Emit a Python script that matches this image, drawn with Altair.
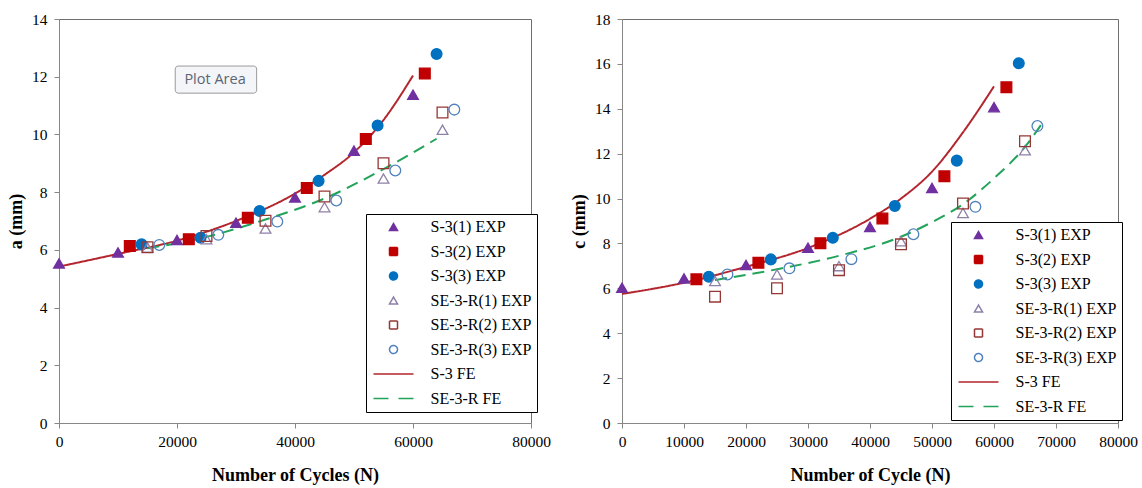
import json
import altair as alt
import pandas as pd

# ---------------- series definitions ----------------
SERIES = ["S-3(1) EXP", "S-3(2) EXP", "S-3(3) EXP",
          "SE-3-R(1) EXP", "SE-3-R(2) EXP", "SE-3-R(3) EXP",
          "S-3 FE", "SE-3-R FE"]
STROKES = ["#7030A0", "#C00000", "#0070C0",
           "#8E80A8", "#953735", "#4F81BD",
           "#B3262E", "#22A35A"]
FILLS = ["#7030A0", "#C00000", "#0070C0",
         "transparent", "transparent", "transparent",
         "transparent", "transparent"]
SHAPES = ["triangle-up", "square", "circle",
          "triangle-up", "square", "circle",
          "M-5,0H5", "M-5,0H5"]
DASHES = [[1, 0], [1, 0], [1, 0], [1, 0], [1, 0], [1, 0], [1, 0], [12, 7]]
LEGEND_DASHES = [[1, 0], [1, 0], [1, 0], [1, 0], [1, 0], [1, 0], [1, 0], [15, 10]]

# ---------------- panel a (depth a) ----------------
A_S31_N = [0, 10000, 20000, 30000, 40000, 50000, 60000]
A_S31_V = [5.53, 5.91, 6.34, 6.94, 7.82, 9.44, 11.38]
A_S32_N = [12000, 22000, 32000, 42000, 52000, 62000]
A_S32_V = [6.13, 6.37, 7.11, 8.14, 9.84, 12.11]
A_S33_N = [14000, 24000, 34000, 44000, 54000, 64000]
A_S33_V = [6.19, 6.42, 7.35, 8.39, 10.31, 12.79]
A_R1_N = [15000, 25000, 35000, 45000, 55000, 65000]
A_R1_V = [6.08, 6.37, 6.74, 7.48, 8.47, 10.16]
A_R2_N = [15000, 25000, 35000, 45000, 55000, 65000]
A_R2_V = [6.09, 6.48, 7.01, 7.85, 9.0, 10.76]
A_R3_N = [17000, 27000, 37000, 47000, 57000, 67000]
A_R3_V = [6.17, 6.52, 6.98, 7.71, 8.75, 10.86]
A_FE_N = [0, 10000, 20000, 30000, 40000, 45000, 50000, 55000, 60000]
A_FE_V = [5.42, 5.86, 6.32, 7.0, 7.95, 8.6, 9.38, 10.5, 12.04]
A_RFE_N = [15000, 25000, 35000, 45000, 55000, 64000]
A_RFE_V = [6.05, 6.45, 7.05, 7.78, 8.8, 9.85]

# ---------------- panel c (length c) ----------------
C_S31_N = [0, 10000, 20000, 30000, 40000, 50000, 60000]
C_S31_V = [6.03, 6.44, 7.04, 7.81, 8.74, 10.47, 14.07]
C_S32_N = [12000, 22000, 32000, 42000, 52000, 62000]
C_S32_V = [6.4, 7.14, 8.01, 9.11, 10.99, 14.96]
C_S33_N = [14000, 24000, 34000, 44000, 54000, 64000]
C_S33_V = [6.52, 7.29, 8.25, 9.67, 11.69, 16.03]
C_R1_N = [15000, 25000, 35000, 45000, 55000, 65000]
C_R1_V = [6.33, 6.62, 6.99, 8.1, 9.36, 12.15]
C_R2_N = [15000, 25000, 35000, 45000, 55000, 65000]
C_R2_V = [5.63, 6.0, 6.81, 7.96, 9.78, 12.55]
C_R3_N = [17000, 27000, 37000, 47000, 57000, 67000]
C_R3_V = [6.62, 6.89, 7.3, 8.41, 9.63, 13.23]
C_FE_N = [0, 10000, 20000, 30000, 40000, 45000, 50000, 55000, 60000]
C_FE_V = [5.75, 6.25, 6.96, 7.8, 9.1, 10.0, 11.2, 12.95, 15.0]
C_RFE_N = [15000, 25000, 35000, 45000, 50000, 55000, 60000, 65000, 68000]
C_RFE_V = [6.37, 6.85, 7.45, 8.3, 8.95, 9.75, 10.9, 12.3, 13.45]

# ---------------- annotation ("Plot Area" tooltip box) ----------------
PA_LABEL = ["Plot Area"]
PA_X = [19700]
PA_X2 = [33500]
PA_Y = [12.37]
PA_Y2 = [11.43]
PA_TX = [26450]
PA_TY = [11.88]

X_TICKS_A = [0, 20000, 40000, 60000, 80000]
X_TICKS_C = [0, 10000, 20000, 30000, 40000, 50000, 60000, 70000, 80000]
Y_TICKS_A = [0, 2, 4, 6, 8, 10, 12, 14]
Y_TICKS_C = [0, 2, 4, 6, 8, 10, 12, 14, 16, 18]

FONT = "Liberation Serif"


def frame(pairs):
    rows = []
    for name, ns, vs in pairs:
        for n, v in zip(ns, vs):
            rows.append({"N": n, "v": v, "series": name})
    return pd.DataFrame(rows)


def make_legend(lx, ly):
    idx = "[datum.index]"
    return alt.Legend(
        title=None, orient="none", legendX=lx, legendY=ly, direction="vertical",
        fillColor="white", strokeColor="black", padding=5,
        labelFont=FONT, labelFontSize=16, labelColor="black", labelLimit=0,
        symbolSize=64, symbolStrokeWidth=1.5, symbolOffset=14.5, labelOffset=29,
        rowPadding=8.5, symbolOpacity=1,
        symbolType={"expr": json.dumps(SHAPES) + idx},
        symbolFillColor={"expr": json.dumps(FILLS) + idx},
        symbolDash={"expr": json.dumps(LEGEND_DASHES) + idx},
    )


def panel(pts, lns, ymax, xticks, yticks, xtitle, ytitle, width, legend, extra=None):
    xs = alt.X("N:Q", scale=alt.Scale(domain=[0, 80000], nice=False),
               axis=alt.Axis(values=xticks, format="d", title=xtitle,
                             labelOverlap=False, labelFlush=False))
    ys = alt.Y("v:Q", scale=alt.Scale(domain=[0, ymax], nice=False),
               axis=alt.Axis(values=yticks, title=ytitle, labelFlush=False))
    col = alt.Color("series:N", scale=alt.Scale(domain=SERIES, range=STROKES), legend=legend)
    lines = alt.Chart(lns).mark_line(strokeWidth=2, interpolate="monotone").encode(
        x=xs, y=ys, color=col,
        strokeDash=alt.StrokeDash("series:N", scale=alt.Scale(domain=SERIES, range=DASHES), legend=None),
    )
    points = alt.Chart(pts).mark_point(size=115, strokeWidth=1.3, opacity=1).encode(
        x=xs, y=ys, color=col,
        fill=alt.Fill("series:N", scale=alt.Scale(domain=SERIES, range=FILLS), legend=None),
        shape=alt.Shape("series:N", scale=alt.Scale(domain=SERIES, range=SHAPES), legend=None),
    )
    layers = [lines, points]
    if extra is not None:
        layers += extra
    return alt.layer(*layers).properties(width=width, height=404)


pts_a = frame([(SERIES[0], A_S31_N, A_S31_V), (SERIES[1], A_S32_N, A_S32_V),
               (SERIES[2], A_S33_N, A_S33_V), (SERIES[3], A_R1_N, A_R1_V),
               (SERIES[4], A_R2_N, A_R2_V), (SERIES[5], A_R3_N, A_R3_V)])
lns_a = frame([(SERIES[6], A_FE_N, A_FE_V), (SERIES[7], A_RFE_N, A_RFE_V)])
pts_c = frame([(SERIES[0], C_S31_N, C_S31_V), (SERIES[1], C_S32_N, C_S32_V),
               (SERIES[2], C_S33_N, C_S33_V), (SERIES[3], C_R1_N, C_R1_V),
               (SERIES[4], C_R2_N, C_R2_V), (SERIES[5], C_R3_N, C_R3_V)])
lns_c = frame([(SERIES[6], C_FE_N, C_FE_V), (SERIES[7], C_RFE_N, C_RFE_V)])

pa = pd.DataFrame({"label": PA_LABEL, "x": PA_X, "x2": PA_X2, "y": PA_Y, "y2": PA_Y2,
                   "tx": PA_TX, "ty": PA_TY})
pa_box = alt.Chart(pa).mark_rect(fill="#f3f5f9", stroke="#9a9a9a", strokeWidth=1,
                                 cornerRadius=3).encode(
    x="x:Q", x2="x2:Q", y="y:Q", y2="y2:Q")
pa_text = alt.Chart(pa).mark_text(font="Open Sans", fontSize=14.5, color="#5b6573",
                                  align="center", baseline="middle").encode(
    x="tx:Q", y="ty:Q", text="label:N")

left = panel(pts_a, lns_a, 14, X_TICKS_A, Y_TICKS_A, "Number of Cycles (N)", "a (mm)",
             472, make_legend(307, 195), extra=[pa_box, pa_text])
right = panel(pts_c, lns_c, 18, X_TICKS_C, Y_TICKS_C, "Number of Cycle (N)", "c (mm)",
              496, make_legend(329, 203))

chart = alt.hconcat(left, right, spacing=91, bounds="flush").resolve_scale(
    color="independent").resolve_legend(color="independent").properties(
    padding={"left": 7, "top": 11, "right": 4, "bottom": 0},
    background="white",
).configure_view(stroke="#6f6f6f", strokeWidth=1).configure_axis(
    grid=False, domainColor="#878787", tickColor="#878787", tickSize=5,
    labelFont=FONT, labelFontSize=15.5, labelColor="black",
    titleFont=FONT, titleFontSize=18, titleFontWeight="bold", titleColor="black",
).configure_axisX(labelPadding=6, titlePadding=17).configure_axisY(
    labelPadding=7, titlePadding=6)

chart.save("out.html", embed_options={"renderer": "svg", "actions": False})
